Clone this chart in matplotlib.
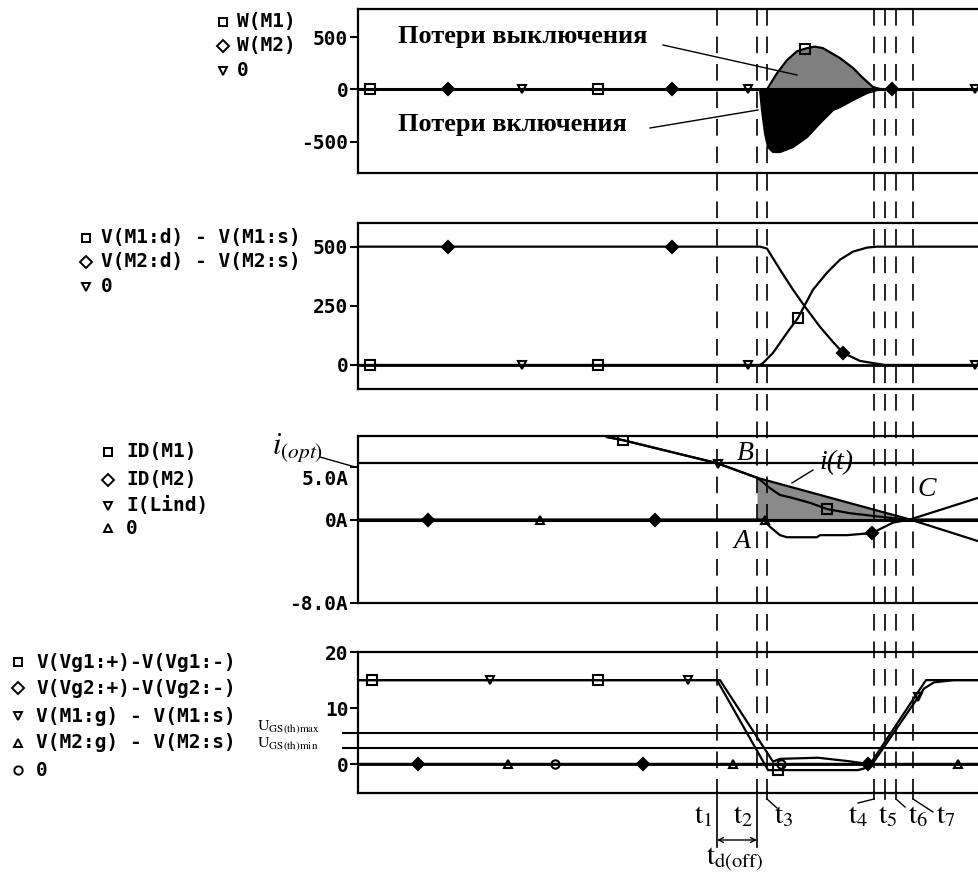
import numpy as np
import matplotlib
matplotlib.use("Agg")
import matplotlib.pyplot as plt

plt.rcParams['mathtext.fontset'] = 'stix'

# ---------------- data (time axis in arbitrary units, 0..625) ----------------
t_marks = [359, 399, 409, 516, 527, 538, 555]
t_names = ['1', '2', '3', '4', '5', '6', '7']

# Panel 1 : W(M1), W(M2), 0
wm1_t = [0, 405, 409, 419, 429, 439, 449, 457, 465, 482, 495, 505, 515, 522, 532, 621]
wm1_v = [0, 0, 1, 155, 280, 366, 395, 410, 395, 300, 205, 109, 23, 4, 0, 0]
wm2_t = [0, 400, 402, 404, 407, 410, 415, 422, 435, 449, 462, 475, 482, 495, 509, 519, 527, 621]
wm2_v = [0, 0, 0, -197, -418, -551, -599, -599, -551, -456, -322, -197, -169, -101, -34, -6, 0, 0]
w_labels = ['W(M1)', 'W(M2)', '0']
w_ticks = [-500, 0, 500]
w_ticklabels = ['-500', '0', '500']

# Panel 2 : drain-source voltages
vm1_t = [0, 402, 405, 415, 429, 440, 455, 469, 482, 495, 509, 519, 621]
vm1_v = [0, 0, 8, 51, 136, 199, 318, 390, 445, 479, 496, 500, 500]
vm2_t = [0, 402, 409, 422, 435, 447, 462, 475, 485, 502, 515, 527, 621]
vm2_v = [500, 500, 492, 403, 318, 246, 161, 97, 51, 17, 8, 0, 0]
v_labels = ['V(M1:d) - V(M1:s)', 'V(M2:d) - V(M2:s)', '0']
v_ticks = [0, 250, 500]
v_ticklabels = ['0', '250', '500']

# Panel 3 : currents
il_t = [249, 265, 359, 399, 552, 621]
il_v = [7.9, 7.6, 5.4, 4.0, 0.0, -2.1]
id1_t = [249, 265, 359, 399, 402, 412, 422, 435, 452, 469, 492, 519, 542, 552, 621]
id1_v = [7.9, 7.6, 5.4, 4.0, 3.8, 3.0, 2.35, 2.05, 1.6, 1.0, 0.6, 0.3, 0.05, 0.0, 0.0]
id2_t = [0, 405, 412, 422, 429, 459, 462, 489, 514, 535, 552, 621]
id2_v = [0, 0, -0.7, -1.5, -1.7, -1.7, -1.5, -1.5, -1.3, -0.3, 0.0, 2.1]
i_opt = 5.4
i_labels = ['ID(M1)', 'ID(M2)', 'I(Lind)', '0']
i_ticks = [-8, 0, 5]
i_ticklabels = ['-8.0A', '0A', '']

# Panel 4 : gate voltages
vg1_t = [0, 359, 410, 500, 510, 568, 621]
vg1_v = [15, 15, -1.0, -1.0, -0.5, 15, 15]
g1_t = [0, 362, 415, 422, 460, 490, 514, 566, 576, 596, 621]
g1_v = [15, 15, 0.5, 1.0, 1.2, 0.6, 0.0, 13.5, 14.6, 15, 15]
vg2_t = [0, 621]
vg2_v = [0, 0]
g2_t = [0, 621]
g2_v = [0, 0]
ugs_max = 5.6
ugs_min = 2.9
g_labels = ['V(Vg1:+)-V(Vg1:-)', 'V(Vg2:+)-V(Vg2:-)', 'V(M1:g) - V(M1:s)',
            'V(M2:g) - V(M2:s)', '0']
g_ticks = [0, 10, 20]
g_ticklabels = ['0', '10', '20']

# ---------------- figure ----------------
W, H = 979, 881
fig = plt.figure(figsize=(W / 100, H / 100), dpi=100)
X0, X1 = 358, 983
XMAX = X1 - X0

MONO = dict(family='DejaVu Sans Mono', weight='bold', size=14)
SERIF = 'Liberation Serif'


def add_panel(top, bottom):
    return fig.add_axes([X0 / W, 1 - bottom / H, (X1 - X0) / W, (bottom - top) / H])


def style(ax, ylim, ticks, labels):
    ax.set_xlim(0, XMAX)
    ax.set_ylim(*ylim)
    ax.set_xticks([])
    ax.set_yticks(ticks)
    ax.set_yticklabels(labels, **MONO)
    ax.tick_params(axis='y', direction='out', length=6, width=1.5, pad=1)
    for s in ['top', 'bottom', 'left']:
        ax.spines[s].set_linewidth(1.6)
    ax.spines['right'].set_visible(False)


def trace(ax, t, v, marker, mt, filled=False, lw=1.6, ms=7, z=3):
    ax.plot(t, v, color='k', lw=lw, solid_joinstyle='round', zorder=z)
    mv = np.interp(mt, t, v)
    ax.plot(mt, mv, ls='none', marker=marker, ms=ms, mec='k',
            mfc='k' if filled else 'none', mew=1.5, zorder=z + 1)


# ---- panel 1
ax1 = add_panel(9, 173)
style(ax1, (-800, 770), w_ticks, w_ticklabels)
ax1.fill_between(wm1_t, wm1_v, 0, color='#808080', lw=0, zorder=1)
ax1.fill_between(wm2_t, wm2_v, 0, color='black', lw=0, zorder=1)
ax1.plot([0, XMAX], [0, 0], color='k', lw=2.2, zorder=2)
trace(ax1, wm1_t, wm1_v, 's', [12, 240, 447])
trace(ax1, wm2_t, wm2_v, 'D', [90, 314, 534], filled=True, ms=6)
ax1.plot([164, 390, 617], [0, 0, 0], ls='none', marker='v', ms=6, mec='k', mfc='none', mew=1.5)

# ---- panel 2
ax2 = add_panel(223, 388.6)
style(ax2, (-100, 600), v_ticks, v_ticklabels)
ax2.plot([0, XMAX], [0, 0], color='k', lw=2.0, zorder=2)
trace(ax2, vm1_t, vm1_v, 's', [12, 240, 440])
trace(ax2, vm2_t, vm2_v, 'D', [90, 314, 485], filled=True, ms=6)
ax2.plot([164, 390, 617], [0, 0, 0], ls='none', marker='v', ms=6, mec='k', mfc='none', mew=1.5)

# ---- panel 3
ax3 = add_panel(436, 603)
style(ax3, (-8, 8), i_ticks, i_ticklabels)
ax3.annotate('5.0A', xy=(0, 5), xycoords=('axes fraction', 'data'), xytext=(-9, -12),
             textcoords='offset pixels', ha='right', va='center', **MONO)
xs = np.linspace(t_marks[1], 552, 200)
ax3.fill_between(xs, np.interp(xs, il_t, il_v), 0, color='#8a8a8a', lw=0, zorder=1)
ax3.plot([0, XMAX], [0, 0], color='k', lw=2.2, zorder=2)
ax3.axhline(i_opt, color='k', lw=1.6, zorder=2)
trace(ax3, id1_t, id1_v, 's', [265, 469])
trace(ax3, id2_t, id2_v, 'D', [70, 297, 514], filled=True, ms=6)
trace(ax3, il_t, il_v, 'v', [360], ms=6)
ax3.plot([182, 407], [0, 0], ls='none', marker='^', ms=6, mec='k', mfc='none', mew=1.5)

# ---- panel 4
ax4 = add_panel(652, 792.6)
style(ax4, (-5, 20), g_ticks, g_ticklabels)
ax4.plot([0, XMAX], [0, 0], color='k', lw=2.0, zorder=2)
for lvl in (ugs_max, ugs_min):
    ax4.axhline(lvl, xmin=-0.024, xmax=1, color='k', lw=1.5, clip_on=False, zorder=2)
trace(ax4, vg2_t, vg2_v, 'D', [60, 285, 510], filled=True, ms=6)
trace(ax4, g2_t, g2_v, '^', [150, 375, 600], ms=6)
trace(ax4, vg1_t, vg1_v, 's', [14, 240, 420])
trace(ax4, g1_t, g1_v, 'v', [132, 330, 560], ms=6)
ax4.plot([197, 423], [0, 0], ls='none', marker='o', ms=6, mec='k', mfc='none', mew=1.5)

# ---------------- overlay (pixel y, time x) ----------------
ov = fig.add_axes([0, 0, 1, 1])
ov.set_xlim(-X0, W - X0)
ov.set_ylim(H, 0)
ov.axis('off')

for i, t in enumerate(t_marks):
    ov.plot([t, t], [9, 792], color='k', lw=1.2, ls=(0, (10, 6.5)))
    end = 847 if i < 2 else 799
    ov.plot([t, t], [792, end], color='k', lw=1.2)

# t labels and leaders
lab_x = [345, 385, 426, 500, 530, 560, 588]
for nm, lx in zip(t_names, lab_x):
    ov.text(lx, 815, r'$\mathrm{t}_{%s}$' % nm, fontsize=21, ha='center', va='center')
leaders = [(2, 419, 808), (3, 500, 803), (5, 547, 807), (6, 575, 812)]
for k, lx, ly in leaders:
    ov.plot([t_marks[k], lx], [799, ly], color='k', lw=1.0)
ov.annotate('', xy=(t_marks[0], 840), xytext=(t_marks[1], 840),
            arrowprops=dict(arrowstyle='<->', lw=1.0, mutation_scale=9, shrinkA=0, shrinkB=0))
ov.text(377, 860, r'$\mathrm{t}_{\mathrm{d(off)}}$', fontsize=21, ha='center', va='center')

# panel 1 annotations
ov.text(40, 37, 'Потери выключения', family=SERIF, weight='bold', fontsize=19,
        ha='left', va='center')
ov.plot([305, 439], [45, 75], color='k', lw=1.0)
ov.text(40, 125, 'Потери включения', family=SERIF, weight='bold', fontsize=19,
        ha='left', va='center')
ov.plot([292, 400], [128, 110], color='k', lw=1.0)

# panel 3 annotations
ov.text(-60, 447, r'$i_{(opt)}$', fontsize=22, ha='center', va='center')
ov.plot([-38, -3], [457, 467], color='k', lw=1.0)
ov.text(387, 453, 'B', family=SERIF, style='italic', fontsize=20, ha='center', va='center')
ov.text(384, 542, 'A', family=SERIF, style='italic', fontsize=20, ha='center', va='center')
ov.text(569, 490, 'C', family=SERIF, style='italic', fontsize=20, ha='center', va='center')
ov.text(478, 463, 'i(t)', family=SERIF, style='italic', fontsize=20, ha='center', va='center')
ov.plot([455, 434], [470, 483], color='k', lw=1.0)

# panel 4 annotations (threshold labels)
ov.text(-101, 730, r'$\mathrm{U}_{\mathrm{GS(th)max}}$', fontsize=11.5, ha='left', va='baseline')
ov.text(-101, 747, r'$\mathrm{U}_{\mathrm{GS(th)min}}$', fontsize=11.5, ha='left', va='baseline')

# legends
def legend(items, markers, mx, tx, ys):
    for lab, m, y in zip(items, markers, ys):
        ov.plot([mx - X0], [y], marker=m, ms=6, mec='k', mfc='none', mew=1.4, ls='none')
        ov.text(tx - X0, y, lab, ha='left', va='center', **MONO)

legend(w_labels, ['s', 'D', 'v'], 223, 237, [22, 46, 71])
legend(v_labels, ['s', 'D', 'v'], 86, 101, [238, 262, 287])
legend(i_labels, ['s', 'D', 'v', '^'], 108, 126, [452, 480, 506, 528])
legend(g_labels, ['s', 'D', 'v', '^', 'o'], 18, 36, [662, 688, 716, 743, 770])

fig.savefig('out.png', dpi=100, facecolor='white')
